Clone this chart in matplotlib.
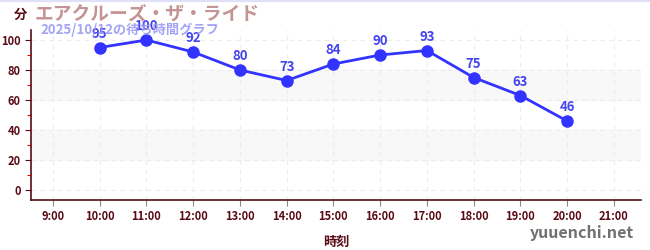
import matplotlib.pyplot as plt
from matplotlib.ticker import MultipleLocator

plt.rcParams['font.family'] = ['Noto Sans CJK JP', 'DejaVu Sans']

# data
hours = [9, 10, 11, 12, 13, 14, 15, 16, 17, 18, 19, 20, 21]
tick_labels = [f"{h}:00" for h in hours]
wait_hours = [10, 11, 12, 13, 14, 15, 16, 17, 18, 19, 20]
wait_minutes = [95, 100, 92, 80, 73, 84, 90, 93, 75, 63, 46]

title = "エアクルーズ・ザ・ライド"
subtitle = "2025/10/12の待ち時間グラフ"

dark = "#5a0a14"
blue = "#3333ff"

fig = plt.figure(figsize=(6.5, 2.5), dpi=100)
ax = fig.add_axes([31 / 650, 50 / 250, 610 / 650, 170 / 250])

ax.set_xlim(8.53, 21.58)
ax.set_ylim(-6.67, 106.67)

# shaded bands
for lo, hi in [(20, 40), (60, 80)]:
    ax.axhspan(lo, hi, color="#f8f8f8", zorder=0)

ax.set_xticks(hours)
ax.set_xticklabels(tick_labels)
ax.set_yticks([0, 20, 40, 60, 80, 100])
ax.yaxis.set_minor_locator(MultipleLocator(10))
ax.grid(True, which="major", color="#ececec", linestyle=(0, (4, 4)), linewidth=0.8)
ax.set_axisbelow(True)

ax.plot(wait_hours, wait_minutes, color=blue, linewidth=2, marker="o",
        markersize=8, zorder=3)
for x, y in zip(wait_hours, wait_minutes):
    ax.annotate(str(y), (x, y), xytext=(0, 5), textcoords="offset points",
                ha="center", va="bottom", color="#4444ee", fontsize=9.5,
                fontweight="bold", zorder=4)

for side in ["top", "right"]:
    ax.spines[side].set_visible(False)
for side in ["left", "bottom"]:
    ax.spines[side].set_color(dark)
    ax.spines[side].set_linewidth(1.2)

ax.tick_params(axis="both", which="major", colors=dark, labelsize=8,
               length=4, width=0.8)
ax.tick_params(axis="x", which="major", color="#888888")
ax.tick_params(axis="y", which="major", color=dark)
ax.tick_params(axis="y", which="minor", color="red", length=3, width=0.8)
for lbl in ax.get_xticklabels() + ax.get_yticklabels():
    lbl.set_fontweight("bold")

ax.set_xlabel("時刻", color=dark, fontsize=9.5, fontweight="bold", labelpad=8)

fig.text(20 / 650, 1 - 15 / 250, "分", color=dark, fontsize=9.5,
         fontweight="bold", ha="center", va="center")
fig.text(35 / 650, 1 - 14 / 250, title, color="#c49393", fontsize=13.5,
         fontweight="bold", ha="left", va="center")
fig.text(40 / 650, 1 - 30 / 250, subtitle, color="#9a9af5", fontsize=9.5,
         fontweight="bold", ha="left", va="center", alpha=0.9)
fig.text(634 / 650, 1 - 233 / 250, "yuuenchi.net", color="#707070",
         fontsize=11.5, fontweight="bold", ha="right", va="center")

fig.add_artist(plt.Line2D([0, 1], [0.997, 0.997], color="#e0e0f8",
                          linewidth=1.5, transform=fig.transFigure))

fig.savefig("out.png", dpi=100)
